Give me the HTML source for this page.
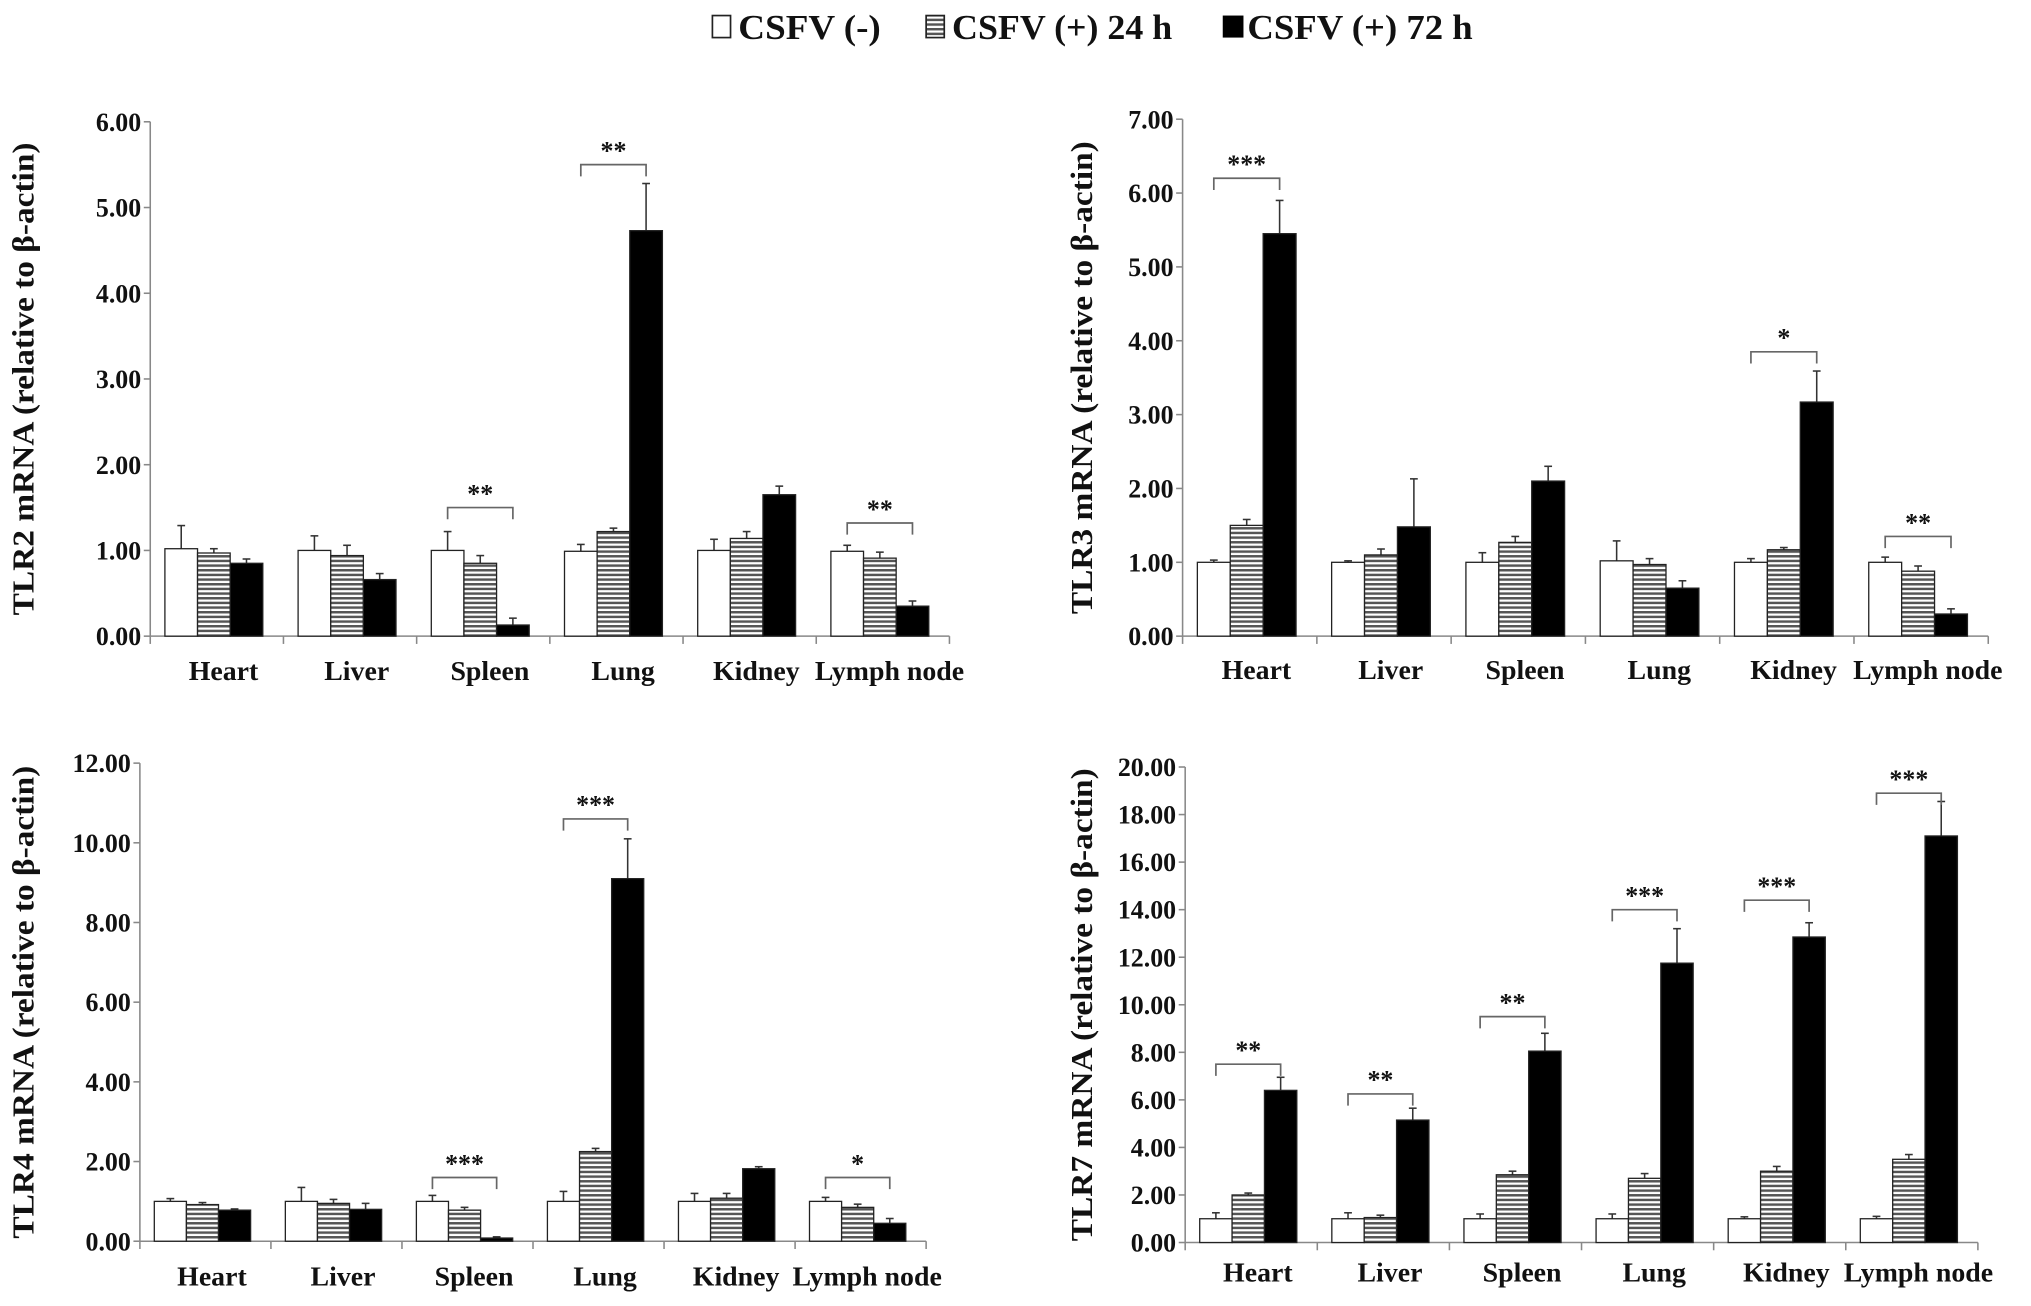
<!DOCTYPE html>
<html><head><meta charset="utf-8">
<style>
html,body{margin:0;padding:0;background:#fff;}
svg{display:block;}
text{font-family:"Liberation Serif",serif;font-weight:bold;fill:#111;}
</style></head>
<body>
<svg id="fig" width="2031" height="1306" viewBox="0 0 1568 1008" preserveAspectRatio="none" xmlns="http://www.w3.org/2000/svg">
<defs>
<pattern id="hatch" patternUnits="userSpaceOnUse" width="6" height="3.6">
<rect width="6" height="3.6" fill="#fff"/>
<rect y="0" width="6" height="1.9" fill="#555"/>
</pattern>
</defs>
<g>
<g><rect x="550" y="12" width="14" height="17" fill="#fff" stroke="#222" stroke-width="1.3"/><text x="570" y="30" font-size="27" textLength="110" lengthAdjust="spacingAndGlyphs">CSFV (-)</text></g>
<g><rect x="715" y="12" width="14" height="17" fill="url(#hatch)" stroke="#222" stroke-width="1.3"/><text x="735" y="30" font-size="27" textLength="170" lengthAdjust="spacingAndGlyphs">CSFV (+) 24 h</text></g>
<g><rect x="944" y="12" width="16" height="17" fill="#000"/><text x="963" y="30" font-size="27" textLength="174" lengthAdjust="spacingAndGlyphs">CSFV (+) 72 h</text></g>
</g>
</svg>
<script>
const categories = ["Heart","Liver","Spleen","Lung","Kidney","Lymph node"];
// TLR2
const tlr2Neg = [1.02,1.00,1.00,0.99,1.00,0.99];
const tlr2NegErr = [0.27,0.17,0.22,0.08,0.13,0.07];
const tlr2H24 = [0.97,0.94,0.85,1.22,1.14,0.91];
const tlr2H24Err = [0.05,0.12,0.09,0.04,0.08,0.07];
const tlr2H72 = [0.85,0.66,0.13,4.73,1.65,0.35];
const tlr2H72Err = [0.05,0.07,0.08,0.55,0.10,0.06];
const tlr2Sig = ["","","**","**","","**"];
const tlr2SigLevel = [0,0,1.5,5.5,0,1.32];
const tlr2Ticks = ["0.00","1.00","2.00","3.00","4.00","5.00","6.00"];
// TLR3
const tlr3Neg = [1.00,1.00,1.00,1.02,1.00,1.00];
const tlr3NegErr = [0.03,0.02,0.13,0.27,0.05,0.07];
const tlr3H24 = [1.50,1.10,1.27,0.97,1.17,0.88];
const tlr3H24Err = [0.08,0.08,0.08,0.08,0.03,0.07];
const tlr3H72 = [5.45,1.48,2.10,0.65,3.17,0.30];
const tlr3H72Err = [0.45,0.65,0.20,0.10,0.42,0.07];
const tlr3Sig = ["***","","","","*","**"];
const tlr3SigLevel = [6.2,0,0,0,3.85,1.35];
const tlr3Ticks = ["0.00","1.00","2.00","3.00","4.00","5.00","6.00","7.00"];
// TLR4
const tlr4Neg = [1.00,1.00,1.00,1.00,1.00,1.00];
const tlr4NegErr = [0.07,0.35,0.15,0.25,0.20,0.10];
const tlr4H24 = [0.92,0.95,0.78,2.25,1.08,0.85];
const tlr4H24Err = [0.05,0.10,0.07,0.08,0.12,0.08];
const tlr4H72 = [0.78,0.80,0.08,9.10,1.82,0.45];
const tlr4H72Err = [0.03,0.15,0.03,1.00,0.05,0.12];
const tlr4Sig = ["","","***","***","","*"];
const tlr4SigLevel = [0,0,1.6,10.6,0,1.6];
const tlr4Ticks = ["0.00","2.00","4.00","6.00","8.00","10.00","12.00"];
// TLR7
const tlr7Neg = [1.00,1.00,1.00,1.00,1.00,1.00];
const tlr7NegErr = [0.25,0.25,0.20,0.20,0.08,0.10];
const tlr7H24 = [2.00,1.05,2.85,2.70,3.00,3.50];
const tlr7H24Err = [0.08,0.10,0.15,0.20,0.20,0.20];
const tlr7H72 = [6.40,5.15,8.05,11.75,12.85,17.10];
const tlr7H72Err = [0.55,0.50,0.75,1.45,0.60,1.45];
const tlr7Sig = ["**","**","**","***","***","***"];
const tlr7SigLevel = [7.5,6.25,9.5,14.0,14.4,18.9];
const tlr7Ticks = ["0.00","2.00","4.00","6.00","8.00","10.00","12.00","14.00","16.00","18.00","20.00"];

const NS="http://www.w3.org/2000/svg";
const svg=document.getElementById('fig');
function mk(tag,attrs,parent){const e=document.createElementNS(NS,tag);for(const k in attrs)e.setAttribute(k,attrs[k]);(parent||svg).appendChild(e);return e;}

function panel(cfg){
  const g=mk('g',{});
  
  
  const max=parseFloat(cfg.ticks[cfg.ticks.length-1]);
  const y=v=>cfg.y0-(v/max)*(cfg.y0-cfg.yTop);
  const gw=(cfg.xEnd-cfg.x0)/categories.length;
  const xg=i=>cfg.x0+i*gw;
  const bw=gw*0.245, off=gw*0.11;
  const ya=mk('line',{x1:cfg.x0,y1:cfg.yTop,x2:cfg.x0,y2:cfg.y0,stroke:'#888','stroke-width':1.2},g);
  
  
  cfg.ticks.forEach((t,i)=>{
    const v=parseFloat(t);
    mk('line',{x1:cfg.x0-5,x2:cfg.x0,y1:y(v),y2:y(v),stroke:'#888','stroke-width':1.2},g);
    const tx=mk('text',{x:cfg.x0-7,y:y(v)+7,'font-size':20,'text-anchor':'end'},g);
    tx.textContent=t;
    
    
  });
  const yt=mk('text',{x:0,y:0,'font-size':24,'text-anchor':'middle',textLength:365,lengthAdjust:'spacingAndGlyphs',transform:`translate(${cfg.titleX},${(cfg.yTop+cfg.y0)/2}) rotate(-90)`},g);
  yt.textContent=cfg.title;
  
  
  const xa=mk('line',{x1:cfg.x0,y1:cfg.y0,x2:cfg.xEnd,y2:cfg.y0,stroke:'#888','stroke-width':1.2},g);
  
  
  for(let i=0;i<=categories.length;i++) mk('line',{x1:xg(i),x2:xg(i),y1:cfg.y0,y2:cfg.y0+6,stroke:'#888','stroke-width':1.2},g);
  const series=[[cfg.neg,cfg.negErr,'#fff'],[cfg.h24,cfg.h24Err,'url(#hatch)'],[cfg.h72,cfg.h72Err,'#000']];
  const names=['neg','24h','72h'];
  categories.forEach((c,i)=>{
    series.forEach((s,j)=>{
      const v=s[0][i], e=s[1][i];
      const bx=xg(i)+off+j*bw;
      const cx=bx+bw/2;
      mk('line',{x1:cx,x2:cx,y1:y(v),y2:y(v+e),stroke:'#333','stroke-width':1.2},g);
      mk('line',{x1:cx-3,x2:cx+3,y1:y(v+e),y2:y(v+e),stroke:'#333','stroke-width':1.2},g);
      const r=mk('rect',{x:bx,y:y(v),width:bw,height:cfg.y0-y(v),fill:s[2],stroke:'#222','stroke-width':1},g);
      
      
    });
    const lab=mk('text',{x:xg(i)+gw*0.55,y:cfg.labY,'font-size':21.5,'text-anchor':'middle'},g);
    lab.textContent=c;
    
    
    if(cfg.sig[i]){
      const yl=y(cfg.sigLevel[i]);
      const x1=xg(i)+off+bw*0.5, x2=xg(i)+off+bw*2.5;
      const br=mk('path',{d:`M${x1},${yl+9}V${yl}H${x2}V${yl+9}`,fill:'none',stroke:'#666','stroke-width':1.3},g);
      
      
      const st=mk('text',{x:(x1+x2)/2,y:yl-4,'font-size':20,'text-anchor':'middle'},g);
      st.textContent=cfg.sig[i];
      
      
    }
  });
}
panel({name:'tlr2-chart',x0:116,xEnd:733,yTop:94,y0:491,labY:525,titleX:26,title:'TLR2 mRNA (relative to β-actin)',ticks:tlr2Ticks,neg:tlr2Neg,negErr:tlr2NegErr,h24:tlr2H24,h24Err:tlr2H24Err,h72:tlr2H72,h72Err:tlr2H72Err,sig:tlr2Sig,sigLevel:tlr2SigLevel});
panel({name:'tlr3-chart',x0:913,xEnd:1535,yTop:92,y0:491,labY:524,titleX:843,title:'TLR3 mRNA (relative to β-actin)',ticks:tlr3Ticks,neg:tlr3Neg,negErr:tlr3NegErr,h24:tlr3H24,h24Err:tlr3H24Err,h72:tlr3H72,h72Err:tlr3H72Err,sig:tlr3Sig,sigLevel:tlr3SigLevel});
panel({name:'tlr4-chart',x0:108,xEnd:715,yTop:589,y0:958,labY:992,titleX:26,title:'TLR4 mRNA (relative to β-actin)',ticks:tlr4Ticks,neg:tlr4Neg,negErr:tlr4NegErr,h24:tlr4H24,h24Err:tlr4H24Err,h72:tlr4H72,h72Err:tlr4H72Err,sig:tlr4Sig,sigLevel:tlr4SigLevel});
panel({name:'tlr7-chart',x0:915,xEnd:1527,yTop:592,y0:959,labY:989,titleX:843,title:'TLR7 mRNA (relative to β-actin)',ticks:tlr7Ticks,neg:tlr7Neg,negErr:tlr7NegErr,h24:tlr7H24,h24Err:tlr7H24Err,h72:tlr7H72,h72Err:tlr7H72Err,sig:tlr7Sig,sigLevel:tlr7SigLevel});
</script>
</body></html>
